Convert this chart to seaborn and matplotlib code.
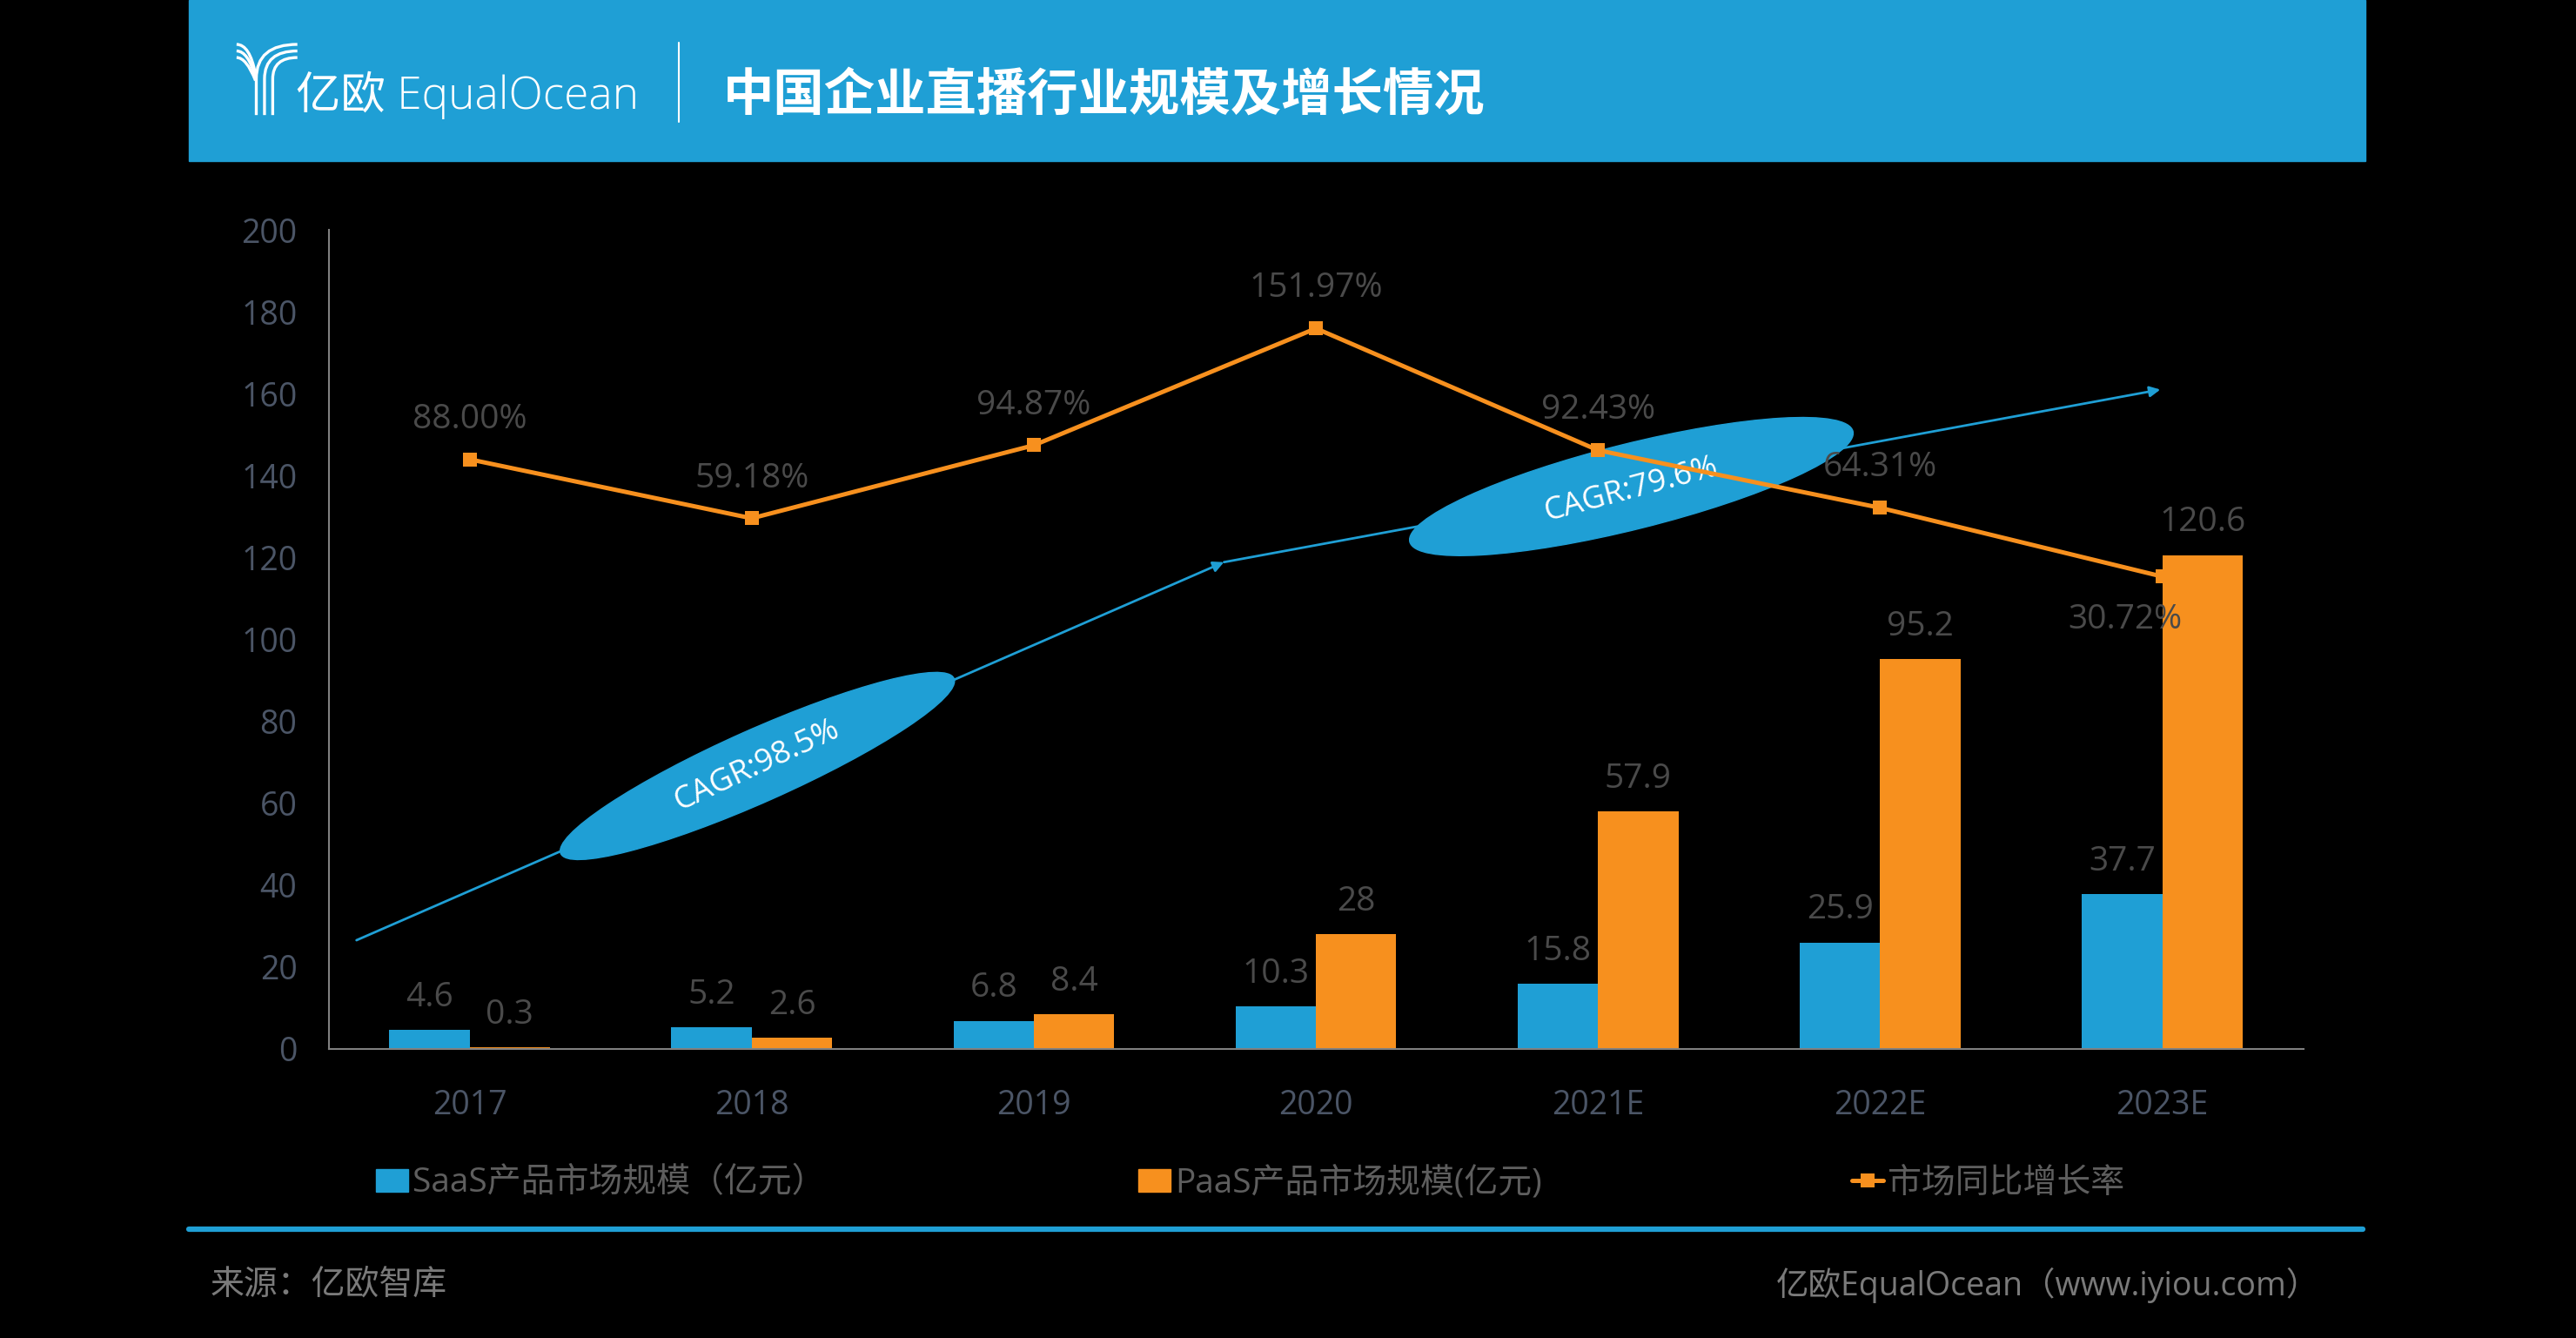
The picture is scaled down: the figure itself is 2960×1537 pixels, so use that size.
import numpy as np
import pandas as pd
import seaborn as sns
import matplotlib
matplotlib.use("Agg")
import matplotlib.pyplot as plt
import matplotlib.transforms as mtrans
from matplotlib.patches import Ellipse, Rectangle, FancyArrowPatch, PathPatch
from matplotlib.path import Path
from matplotlib.lines import Line2D

# ---------------- data ----------------
years = ['2017', '2018', '2019', '2020', '2021E', '2022E', '2023E']
saas = [4.6, 5.2, 6.8, 10.3, 15.8, 25.9, 37.7]
paas = [0.3, 2.6, 8.4, 28, 57.9, 95.2, 120.6]
growth = [88.00, 59.18, 94.87, 151.97, 92.43, 64.31, 30.72]
series_names = ['SaaS产品市场规模（亿元）', 'PaaS产品市场规模(亿元)', '市场同比增长率']
yticks = [0, 20, 40, 60, 80, 100, 120, 140, 160, 180, 200]
cagr_labels = ['CAGR:98.5%', 'CAGR:79.6%']
title = '中国企业直播行业规模及增长情况'
source = '来源：亿欧智库'
brand = '亿欧EqualOcean（www.iyiou.com）'

BLUE = '#1F9FD5'
ORANGE = '#F7901E'
TICK = '#4B5566'
LABEL = '#4A4A4A'
LEG = '#5E5E5E'
FOOT = '#7A7A7A'

sns.set_theme(style='white')
plt.rcParams['font.family'] = ['Open Sans', 'Noto Sans CJK SC', 'DejaVu Sans']

W, H = 2960, 1537
fig = plt.figure(figsize=(W / 100, H / 100), dpi=100, facecolor='black')

# transform: reference coordinates of the 1568x814 preview (y up)
T = mtrans.Affine2D().scale(1 / 1568, 1 / 814) + fig.transFigure
def P(x, y):
    return (x, 814 - y)

ax = fig.add_axes([200 / 1568, 1 - 638 / 814, 1202 / 1568, 498 / 814])
ax.set_facecolor('none')

df = pd.DataFrame({
    'year': years * 2,
    'value': saas + paas,
    'series': [series_names[0]] * len(years) + [series_names[1]] * len(years),
})
sns.barplot(data=df, x='year', y='value', hue='series', palette=[BLUE, ORANGE],
            width=0.57, saturation=1, ax=ax, legend=False, zorder=2,
            edgecolor='none', linewidth=0)
ax.set_ylim(0, 200)
ax.set_xlim(-0.5, len(years) - 0.5)
ax.set_yticks(yticks)
ax.set_xlabel('')
ax.set_ylabel('')
for s in ['top', 'right']:
    ax.spines[s].set_visible(False)
for s in ['left', 'bottom']:
    ax.spines[s].set_color('#808080')
    ax.spines[s].set_linewidth(1.5)
ax.tick_params(axis='y', length=0, pad=26, labelsize=27, labelcolor=TICK)
ax.tick_params(axis='x', length=0, pad=33, labelsize=27, labelcolor=TICK)
ax.grid(False)

for cont in ax.containers:
    for bar in cont:
        h = bar.get_height()
        ax.annotate(f'{h:g}', (bar.get_x() + bar.get_width() / 2, h),
                    xytext=(0, 27), textcoords='offset points',
                    ha='center', va='center', fontsize=28, color=LABEL)

ax2 = ax.twinx()
ax2.set_ylim(-200, 200)
x_pos = np.arange(len(years))
sns.lineplot(x=x_pos, y=growth, ax=ax2, color=ORANGE, marker='s', markersize=12,
             markeredgewidth=0, linewidth=3.6, zorder=3)
ax2.axis('off')
for i, g in enumerate(growth):
    off = (0, 33)
    if i == len(growth) - 1:
        off = (-31, -36)
    ax2.annotate(f'{g:.2f}%', (x_pos[i], g), xytext=off, textcoords='offset points',
                 ha='center', va='center', fontsize=28, color=LABEL)

# ---------------- CAGR decorations ----------------
arrA = FancyArrowPatch(P(217, 572), P(745, 342), arrowstyle='-|>', mutation_scale=18,
                       color=BLUE, lw=2, transform=T, shrinkA=0, shrinkB=0, zorder=-3)
arrB = FancyArrowPatch(P(745, 342), P(1315, 237), arrowstyle='-|>', mutation_scale=18,
                       color=BLUE, lw=2, transform=T, shrinkA=0, shrinkB=0, zorder=-3)
fig.add_artist(arrA)
fig.add_artist(arrB)
e1 = Ellipse(P(461, 466), 262, 44, angle=24, transform=T, color=BLUE, zorder=-2)
e2 = Ellipse(P(993, 296), 278, 52, angle=14, transform=T, color=BLUE, zorder=-2)
fig.add_artist(e1)
fig.add_artist(e2)
fig.text(*P(461, 466), cagr_labels[0], transform=T, rotation=25, rotation_mode='anchor',
         ha='center', va='center', fontsize=26, color='white', zorder=-1)
fig.text(*P(993, 298), cagr_labels[1], transform=T, rotation=15, rotation_mode='anchor',
         ha='center', va='center', fontsize=26, color='white', zorder=-1)

# ---------------- header ----------------
fig.add_artist(Rectangle(P(115, 98), 1440 - 115, 98, transform=T, color=BLUE, zorder=1))
fig.text(*P(440, 58), title, transform=T, ha='left', va='center', fontsize=42,
         fontweight='heavy', color='white', family=['Noto Sans CJK SC', 'DejaVu Sans'], zorder=3)
fig.text(*P(180, 58), '亿欧 EqualOcean', transform=T, ha='left', va='center', fontsize=37,
         fontweight='light', color='white', family=['Open Sans', 'Noto Sans CJK SC'], zorder=3)
fig.add_artist(Line2D([413, 413], [814 - 26, 814 - 74], transform=T, color='white', lw=1.5, zorder=3))

# logo icon (stylised)
stems = [156, 161, 166]
for j, sx in enumerate(stems):
    verts = [P(sx, 70), P(sx, 48), P(sx, 27 + 4 * j), P(181, 27 + 4 * j)]
    path = Path(verts, [Path.MOVETO, Path.LINETO, Path.CURVE3, Path.CURVE3])
    fig.add_artist(PathPatch(path, transform=T, fill=False, ec='white', lw=2.4, zorder=3))
    verts = [P(144, 27 + 4 * j), P(152 - j, 27 + 4 * j), P(155.5, 45 + 2 * j)]
    path = Path(verts, [Path.MOVETO, Path.CURVE3, Path.CURVE3])
    fig.add_artist(PathPatch(path, transform=T, fill=False, ec='white', lw=2.4, zorder=3))

# ---------------- legend ----------------
handles = [Rectangle((0, 0), 1, 1, color=BLUE), Rectangle((0, 0), 1, 1, color=ORANGE),
           Line2D([], [], color=ORANGE, lw=3.6, marker='s', markersize=12, markeredgewidth=0)]
leg_x = [229, 693, 1127]
for hnd, lab, lx in zip(handles, series_names, leg_x):
    fig.legend([hnd], [lab], loc='center left', bbox_to_anchor=(lx / 1568, 1 - 720 / 814),
               frameon=False, fontsize=28, labelcolor=LEG, borderaxespad=0, borderpad=0,
               handlelength=0.95, handleheight=0.65, handletextpad=0.12)

# ---------------- footer ----------------
fig.add_artist(Line2D([115, 1438], [814 - 748, 814 - 748], transform=T, color=BLUE, lw=4.5))
fig.text(*P(128, 782), source, transform=T, ha='left', va='center', fontsize=28, color=FOOT)
fig.text(*P(1412, 782), brand, transform=T, ha='right', va='center', fontsize=27, color=FOOT)

fig.savefig('out.png', dpi=100, facecolor='black')
